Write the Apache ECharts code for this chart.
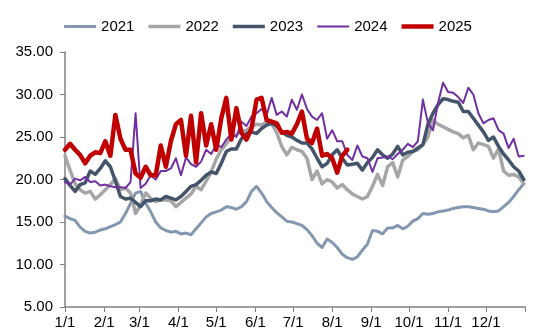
<!DOCTYPE html>
<html><head><meta charset="utf-8">
<script src="https://cdn.jsdelivr.net/npm/echarts@6/dist/echarts.min.js"></script>
<style>html,body{margin:0;padding:0;background:#fff}#c{width:536px;height:336px}</style>
</head><body><div id="c"></div>
<script>
// sampling step (days) for all series; x = index * STEP (day of year)
const STEP = 4;
const monthStarts = [0,31,59,90,120,151,181,212,243,273,304,334];
const monthLabels = ['1/1','2/1','3/1','4/1','5/1','6/1','7/1','8/1','9/1','10/1','11/1','12/1'];
const yTicks = [5,10,15,20,25,30,35];

const s2021 = [15.7,15.4,15.2,14.4,13.9,13.7,13.8,14.05,14.2,14.45,
14.7,15.0,16.0,17.2,18.4,18.6,17.2,16.2,15.0,14.3,
14.0,13.8,13.9,13.6,13.7,13.5,14.2,14.9,15.6,16.0,
16.2,16.4,16.8,16.7,16.5,16.8,17.4,18.6,19.2,18.4,
17.4,16.7,16.1,15.6,15.1,15.0,14.8,14.6,14.1,13.4,
12.5,12.0,13.0,12.6,12.0,11.2,10.8,10.6,10.9,11.7,
12.4,14.0,13.9,13.6,14.3,14.3,14.6,14.2,14.5,15.1,
15.4,16.0,15.9,16.0,16.2,16.3,16.4,16.6,16.7,16.8,
16.8,16.7,16.6,16.5,16.3,16.2,16.3,16.8,17.3,18.0,
18.8,19.5];
const s2022 = [22.8,21.1,19.5,18.8,18.4,18.6,17.7,18.2,18.8,19.4,
20.1,18.8,19.0,18.4,16.0,17.0,18.4,17.8,17.4,17.6,
17.6,17.5,16.8,17.3,17.8,18.3,19.2,18.8,19.8,20.9,
22.4,23.5,24.2,25.0,25.3,25.6,25.8,26.2,26.5,26.4,
26.8,26.6,25.5,23.9,22.9,23.8,23.5,23.3,22.5,20.0,
21.0,19.5,20.0,19.7,19.0,19.4,18.8,18.3,18.0,17.7,
18.0,19.2,20.6,19.3,21.5,22.0,20.3,22.3,22.7,23.3,
23.5,24.1,25.0,27.0,26.5,26.2,25.9,25.6,25.4,24.9,
25.2,23.5,24.3,24.1,23.9,22.5,23.6,21.0,20.5,20.6,
20.3,19.5];
const s2023 = [20.1,19.3,18.6,19.4,19.6,21.0,20.6,21.3,22.2,21.5,
19.8,18.0,17.7,17.8,17.3,16.8,17.5,17.5,17.7,17.6,
18.0,17.8,17.6,18.0,18.6,19.2,19.4,19.9,20.5,20.9,
20.7,21.9,23.3,23.6,23.6,24.8,25.4,25.6,25.4,26.0,
26.4,26.6,26.3,25.6,25.2,25.0,24.6,24.3,24.3,23.6,
22.5,21.5,21.9,22.9,23.5,22.5,21.7,21.8,21.9,21.1,
22.0,22.6,23.5,22.9,22.5,23.0,23.9,22.9,23.2,23.3,
23.7,24.1,26.5,27.8,28.8,29.5,29.4,29.2,29.1,28.0,
28.0,27.2,26.4,25.6,24.6,25.0,23.9,23.0,22.3,21.5,
21.0,20.0];
const s2024 = [19.7,19.4,20.1,19.9,20.3,19.7,19.8,19.3,19.4,19.2,
19.1,19.1,19.0,19.7,27.8,19.0,19.5,20.5,20.0,21.0,
21.0,21.3,22.5,20.5,22.6,21.8,21.5,22.1,23.5,23.0,
24.1,23.8,24.7,25.4,25.0,26.8,26.3,27.4,27.8,28.3,
27.6,29.6,27.6,28.0,27.4,29.4,28.2,30.0,28.3,27.4,
27.0,27.8,24.8,25.8,24.5,24.5,22.9,22.3,24.0,22.7,
22.5,20.9,22.5,22.6,22.7,22.4,23.0,23.5,24.2,23.8,
24.5,29.4,26.6,25.8,29.0,31.4,30.3,30.2,29.7,29.0,
30.8,30.0,27.8,26.6,27.0,27.2,25.8,25.4,23.7,24.8,
22.7,22.8];
const s2025 = [23.5,24.2,23.5,22.9,21.9,22.8,23.2,23.1,24.5,22.8,
27.6,24.8,23.5,23.5,20.7,20.2,21.5,20.5,20.5,24.0,
21.5,24.5,26.5,27.0,22.8,27.5,22.0,27.8,24.0,26.5,
23.5,27.2,29.6,24.7,28.4,25.5,24.7,26.0,29.4,29.6,
27.0,26.8,26.6,25.5,25.6,25.4,26.5,28.0,24.8,24.3,
26.0,22.8,23.0,22.5,20.8,22.8,23.5];

const years = ['2021','2022','2023','2024','2025'];
const seriesValues = [s2021,s2022,s2023,s2024,s2025];
const colors = ['#8497B0','#A6A6A6','#44546A','#7030A0','#C00000'];
const widths = [3,3.5,3.5,2,4.5];

function bar(h){ return 'path://M0,0 L64,0 L64,' + h + ' L0,' + h + ' Z'; }

const FONT = 'Arial, "Liberation Sans", sans-serif';
const chart = echarts.init(document.getElementById('c'), null, {renderer:'canvas'});
chart.setOption({
  animation:false,
  backgroundColor:'#fff',
  color: colors,
  legend:{
    top:14, left:'center', itemWidth:32, itemHeight:12, itemGap:14,
    symbolKeepAspect:true,
    textStyle:{fontFamily:FONT,fontSize:15,color:'#000'},
    data: years.map(function(y,k){
      return {name:y, icon: bar(widths[k]*2), itemStyle:{color:colors[k]}};
    })
  },
  grid:{left:65,right:11,top:52,bottom:29,containLabel:false},
  xAxis:{
    type:'value', min:0, max:365,
    axisLine:{lineStyle:{color:'#808080',width:1.5}},
    axisTick:{show:true,length:5,lineStyle:{color:'#808080',width:1},customValues: monthStarts.concat([365])},
    axisLabel:{fontFamily:FONT,fontSize:15,color:'#000',margin:8,
      customValues: monthStarts,
      formatter:function(v){const i=monthStarts.indexOf(v);return i>=0?monthLabels[i]:'';}},
    splitLine:{show:false}
  },
  yAxis:{
    type:'value', min:yTicks[0], max:yTicks[yTicks.length-1], interval:5,
    axisLine:{show:true,lineStyle:{color:'#808080',width:1.5}},
    axisTick:{show:true,length:5,lineStyle:{color:'#808080',width:1}},
    axisLabel:{fontFamily:FONT,fontSize:15,color:'#000',margin:12,formatter:function(v){return v.toFixed(2);}},
    splitLine:{show:false}
  },
  series: years.map(function(y,k){
    return {
      name:y, type:'line', symbol:'none', smooth:false,
      lineStyle:{color:colors[k],width:widths[k],join:'round',cap:'round'},
      itemStyle:{color:colors[k]},
      data: seriesValues[k].map(function(v,i){return [i*STEP,v];}),
      z: 2+k
    };
  })
});
</script></body></html>
